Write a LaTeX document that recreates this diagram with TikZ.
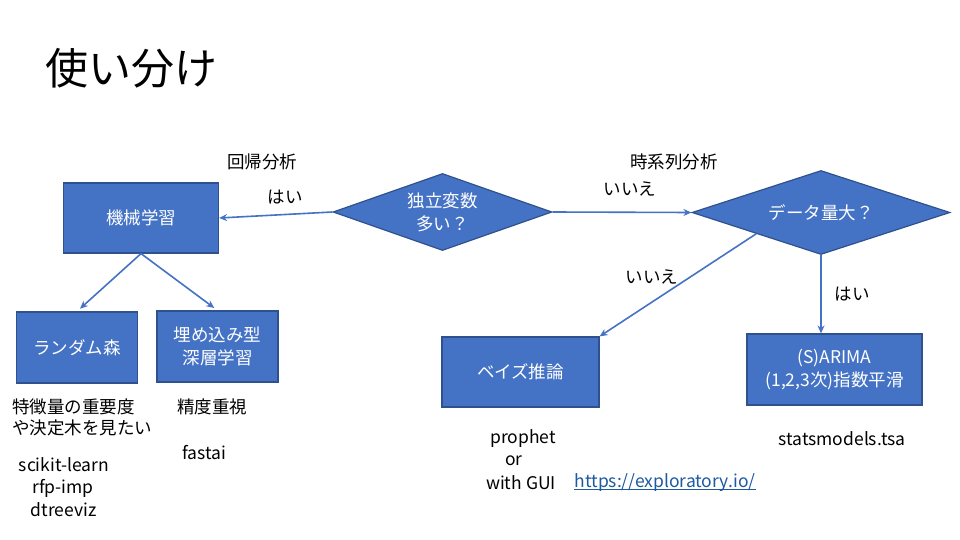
\documentclass[tikz,border=0pt]{standalone}
\usepackage{fontspec}
\setmainfont{Noto Sans CJK JP}
\usetikzlibrary{shapes.geometric,arrows.meta}
\definecolor{boxfill}{HTML}{4472C4}
\definecolor{boxedge}{HTML}{2F528F}
\definecolor{linkblue}{RGB}{30,90,160}
\tikzset{
  lbl/.style={font=\fontsize{17.5}{21}\selectfont, text=black, inner sep=0pt},
  bluebox/.style={draw=boxedge, fill=boxfill, line width=1.2pt, text=white,
     font=\fontsize{17.5}{23}\selectfont, align=center, inner sep=0pt},
  decide/.style={shape=diamond, draw=boxedge, fill=boxfill, line width=1.2pt, text=white,
     font=\fontsize{17.5}{23}\selectfont, align=center, inner sep=0pt, aspect=2.8},
  conn/.style={draw=boxfill, line width=1.6pt, -{Stealth[length=8pt,width=7pt]}},
}
\begin{document}
\begin{tikzpicture}[x=1pt,y=-1pt]
\useasboundingbox[fill=white] (0,0) rectangle (960,540);
% title
\node[lbl, font=\fontsize{43}{46}\selectfont, anchor=west] (title) at (45,68) {使い分け};
% boxes
\node[bluebox, minimum width=155pt, minimum height=70pt] (ml) at (141,218) {機械学習};
\node[bluebox, minimum width=121pt, minimum height=71pt] (rf) at (77,347.5) {ランダム森};
\node[bluebox, minimum width=121pt, minimum height=71pt] (dl) at (217.5,346.5) {埋め込み型\\深層学習};
\node[bluebox, minimum width=157pt, minimum height=70pt] (bayes) at (520.5,372) {ベイズ推論};
\node[bluebox, minimum width=175pt, minimum height=71pt] (sarima) at (834.5,369.5) {(S)ARIMA\\(1,2,3次)指数平滑};
% diamonds
\node[decide, minimum width=219pt, minimum height=77pt] (d1) at (442.5,212) {独立変数\\多い？};
\node[decide, minimum width=258pt, minimum height=84pt] (d2) at (821,212.5) {データ量大？};
% connectors
\draw[conn] (d1.west) -- (ml.east);
\draw[conn] (d1.east) -- (d2.west);
\draw[conn] (d2.south west) -- (bayes.north east);
\draw[conn] (d2.south) -- (d2.south |- sarima.north);
\draw[conn, shorten >=4pt] (ml.south) -- (rf.north);
\draw[conn, shorten >=4pt] (ml.south) -- (dl.north);
% labels
\node[lbl] (l1) at (262,162) {回帰分析};
\node[lbl] (l2) at (285,197) {はい};
\node[lbl] (l3) at (674,162) {時系列分析};
\node[lbl] (l4) at (630,189) {いいえ};
\node[lbl] (l5) at (652,277) {いいえ};
\node[lbl] (l6) at (852,294) {はい};
\node[lbl, anchor=west, align=left] (t1) at (12,417.5) {特徴量の重要度\\や決定木を見たい};
\node[lbl] (t2) at (212,407) {精度重視};
\node[lbl] (t3) at (204,453) {fastai};
\node[lbl] (t4) at (64,465) {scikit-learn};
\node[lbl] (t5) at (63,488) {rfp-imp};
\node[lbl] (t6) at (63.5,510) {dtreeviz};
\node[lbl] (t7) at (523,439) {prophet};
\node[lbl] (t8) at (514,461) {or};
\node[lbl] (t9) at (521,483) {with GUI};
\node[lbl, text=linkblue] (t10) at (665,483) {https://exploratory.io/};
\draw[linkblue, line width=1pt] ([yshift=3pt]t10.south west) -- ([yshift=3pt]t10.south east);
\node[lbl] (t11) at (842,439) {statsmodels.tsa};
\end{tikzpicture}
\end{document}
